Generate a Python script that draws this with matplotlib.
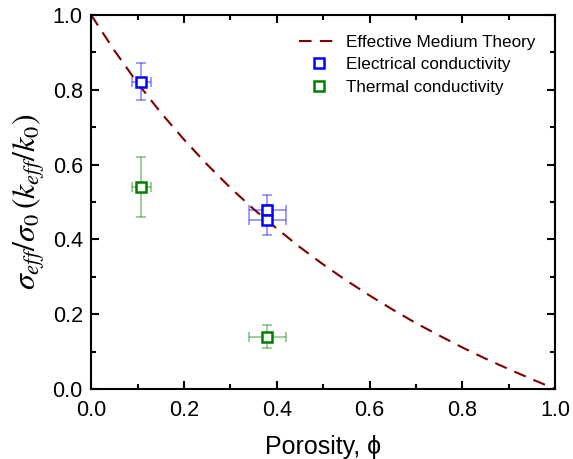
import matplotlib
matplotlib.use("Agg")
import matplotlib.pyplot as plt
from matplotlib.ticker import MultipleLocator

plt.rcParams['font.family'] = ['Liberation Sans', 'DejaVu Sans']
plt.rcParams['mathtext.fontset'] = 'stix'

# effective medium theory curve
emt_phi = [0.0, 0.05, 0.1, 0.15, 0.2, 0.25, 0.3, 0.35, 0.4, 0.45, 0.5,
           0.55, 0.6, 0.65, 0.7, 0.75, 0.8, 0.85, 0.9, 0.95, 1.0]
emt_val = [1.0, 0.905, 0.818, 0.739, 0.667, 0.600, 0.538, 0.481, 0.429, 0.379, 0.333,
           0.290, 0.250, 0.212, 0.176, 0.143, 0.111, 0.081, 0.053, 0.026, 0.0]

# electrical conductivity
elec_phi = [0.108, 0.38, 0.38]
elec_val = [0.822, 0.478, 0.453]
elec_xerr = [0.02, 0.04, 0.04]
elec_yerr = [0.05, 0.04, 0.04]

# thermal conductivity
therm_phi = [0.108, 0.38]
therm_val = [0.54, 0.14]
therm_xerr = [0.02, 0.04]
therm_yerr = [0.08, 0.03]

fig = plt.figure(figsize=(5.73, 4.59), dpi=100)
ax = fig.add_axes([0.159, 0.1525, 0.81, 0.815])

ax.plot(emt_phi, emt_val, color='#800000', linestyle=(0, (6, 4)), lw=1.5,
        label='Effective Medium Theory')

ax.errorbar(elec_phi, elec_val, xerr=elec_xerr, yerr=elec_yerr, fmt='none',
            ecolor='#0000ff', alpha=0.45, elinewidth=1.2, capsize=3.5, capthick=1.2)
ax.plot(elec_phi, elec_val, 's', ms=6.8, mfc='white', mec='#0000ff', mew=1.8,
        ls='none', label='Electrical conductivity')

ax.errorbar(therm_phi, therm_val, xerr=therm_xerr, yerr=therm_yerr, fmt='none',
            ecolor='#008000', alpha=0.45, elinewidth=1.2, capsize=3.5, capthick=1.2)
ax.plot(therm_phi, therm_val, 's', ms=6.8, mfc='white', mec='#008000', mew=1.8,
        ls='none', label='Thermal conductivity')

ax.set_xlim(0, 1)
ax.set_ylim(0, 1)
ax.xaxis.set_major_locator(MultipleLocator(0.2))
ax.xaxis.set_minor_locator(MultipleLocator(0.1))
ax.yaxis.set_major_locator(MultipleLocator(0.2))
ax.yaxis.set_minor_locator(MultipleLocator(0.1))
ax.xaxis.set_major_formatter(plt.FormatStrFormatter('%.1f'))
ax.yaxis.set_major_formatter(plt.FormatStrFormatter('%.1f'))
ax.tick_params(which='both', direction='in', top=True, right=True, width=1.5,
               labelsize=15.5)
ax.tick_params(axis='x', which='major', pad=8)
ax.tick_params(axis='y', which='major', pad=6)
ax.tick_params(which='major', length=6)
ax.tick_params(which='minor', length=3.5)
for s in ax.spines.values():
    s.set_linewidth(1.5)

ax.set_xlabel('Porosity, ϕ', fontsize=18, labelpad=10)
ax.set_ylabel(r'$\sigma_{eff}/\sigma_0\,(k_{eff}/k_0)$', fontsize=23, labelpad=4)

ax.legend(loc='upper right', frameon=False, fontsize=12.3, handlelength=2.35,
          handletextpad=0.4, labelspacing=0.45, borderaxespad=0.75)

fig.savefig('out.png', dpi=100)
